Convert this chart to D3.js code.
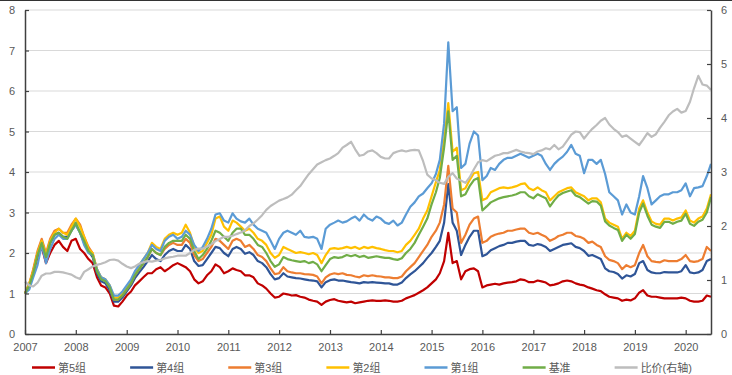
<!DOCTYPE html>
<html>
<head>
<meta charset="utf-8">
<script src="https://cdn.jsdelivr.net/npm/d3@7"></script>
<style>
  body { margin: 0; background: #fff; }
  svg text { font-family: "Liberation Sans", Arial, "Noto Sans CJK SC", sans-serif; }
</style>
</head>
<body>
<svg id="chart" width="732" height="375"></svg>
<script>
// monthly values, Jan 2007 .. Jul 2020
var firstMonth = new Date(2007, 0, 1);
var lastMonth = new Date(2020, 6, 1);
var yearLabels = ["2007","2008","2009","2010","2011","2012","2013","2014","2015","2016","2017","2018","2019","2020"];
var leftTicks = [0, 1, 2, 3, 4, 5, 6, 7, 8];
var rightTicks = [0, 1, 2, 3, 4, 5, 6];

var names = ["第5组", "第4组", "第3组", "第2组", "第1组", "基准", "比价(右轴)"];
var colors = ["#c00000", "#2f5597", "#ed7d31", "#ffc000", "#5b9bd5", "#70ad47", "#bdbdbd"];

var g5 = [1.0,1.2,1.5,1.9,2.15,1.75,2.0,2.2,2.3,2.15,2.05,2.3,
  2.35,2.1,2.0,1.85,1.75,1.4,1.2,1.15,1.0,0.7,0.68,0.8,
  0.95,1.05,1.2,1.3,1.4,1.5,1.5,1.6,1.65,1.55,1.62,1.7,
  1.75,1.7,1.65,1.55,1.35,1.25,1.3,1.45,1.55,1.72,1.65,1.5,
  1.55,1.62,1.58,1.55,1.45,1.45,1.4,1.25,1.2,1.12,1.0,0.9,
  0.92,1.0,0.98,0.95,0.96,0.92,0.9,0.85,0.82,0.8,0.72,0.8,
  0.84,0.86,0.82,0.8,0.78,0.8,0.76,0.78,0.8,0.82,0.83,0.82,
  0.82,0.83,0.82,0.8,0.8,0.82,0.88,0.92,0.96,1.02,1.08,1.15,
  1.25,1.35,1.5,1.8,2.5,1.75,1.8,1.35,1.55,1.6,1.62,1.55,
  1.15,1.2,1.22,1.24,1.22,1.25,1.27,1.28,1.3,1.35,1.33,1.28,
  1.28,1.32,1.3,1.27,1.2,1.22,1.25,1.3,1.32,1.3,1.25,1.22,
  1.2,1.15,1.12,1.08,1.06,0.98,0.92,0.9,0.88,0.82,0.85,0.83,
  0.88,1.02,1.08,0.95,0.92,0.92,0.9,0.88,0.88,0.88,0.88,0.9,
  0.88,0.82,0.8,0.8,0.82,0.95,0.92];

var g4 = [1.0,1.22,1.55,2.0,2.3,1.9,2.25,2.45,2.5,2.4,2.4,2.55,
  2.7,2.5,2.25,2.05,1.9,1.5,1.3,1.25,1.08,0.8,0.8,0.9,
  1.05,1.2,1.38,1.52,1.65,1.8,1.95,1.85,1.8,1.95,2.05,2.1,
  2.05,2.05,2.2,2.1,1.8,1.68,1.7,1.85,2.0,2.15,2.12,2.0,
  1.92,2.1,2.15,2.1,1.98,2.02,1.95,1.8,1.75,1.65,1.48,1.35,
  1.38,1.5,1.42,1.4,1.38,1.37,1.35,1.33,1.32,1.3,1.15,1.28,
  1.33,1.35,1.32,1.32,1.3,1.28,1.27,1.25,1.28,1.27,1.28,1.27,
  1.26,1.25,1.25,1.22,1.22,1.27,1.38,1.47,1.55,1.65,1.75,1.88,
  2.0,2.15,2.3,2.75,3.7,2.75,2.55,1.95,2.2,2.4,2.55,2.55,
  1.92,1.97,2.07,2.12,2.17,2.2,2.25,2.25,2.28,2.3,2.3,2.2,
  2.18,2.22,2.2,2.15,2.05,2.1,2.15,2.2,2.22,2.24,2.15,2.12,
  2.05,1.93,1.95,1.9,1.85,1.62,1.55,1.53,1.48,1.37,1.45,1.42,
  1.48,1.75,1.8,1.58,1.52,1.5,1.5,1.53,1.52,1.52,1.52,1.55,
  1.7,1.52,1.5,1.52,1.58,1.8,1.85];

var g3 = [1.0,1.25,1.6,2.05,2.35,2.0,2.35,2.55,2.6,2.5,2.5,2.7,
  2.85,2.7,2.4,2.15,2.0,1.6,1.38,1.32,1.15,0.85,0.85,0.95,
  1.1,1.25,1.45,1.6,1.75,1.9,2.1,2.0,1.95,2.1,2.2,2.25,
  2.2,2.2,2.35,2.25,1.95,1.8,1.85,2.0,2.15,2.35,2.3,2.2,
  2.1,2.3,2.35,2.3,2.15,2.2,2.1,1.95,1.9,1.8,1.62,1.48,
  1.5,1.65,1.55,1.52,1.5,1.5,1.48,1.47,1.46,1.42,1.25,1.4,
  1.47,1.5,1.48,1.5,1.46,1.45,1.42,1.4,1.45,1.43,1.45,1.43,
  1.42,1.4,1.4,1.38,1.38,1.42,1.55,1.65,1.75,1.9,2.05,2.2,
  2.4,2.55,2.75,3.2,4.15,3.1,3.0,2.25,2.45,2.7,2.85,2.9,
  2.25,2.3,2.4,2.45,2.48,2.5,2.55,2.55,2.58,2.6,2.6,2.5,
  2.47,2.5,2.45,2.4,2.3,2.35,2.42,2.45,2.5,2.5,2.42,2.4,
  2.35,2.25,2.28,2.2,2.15,1.92,1.83,1.8,1.75,1.6,1.7,1.65,
  1.7,2.0,2.2,1.92,1.8,1.78,1.77,1.82,1.8,1.8,1.8,1.85,
  1.95,1.8,1.78,1.8,1.85,2.15,2.05];

var g2 = [1.0,1.25,1.55,2.0,2.3,1.95,2.3,2.5,2.6,2.5,2.45,2.65,
  2.85,2.65,2.4,2.1,2.0,1.6,1.4,1.35,1.2,0.9,0.9,1.0,
  1.15,1.3,1.5,1.7,1.85,2.0,2.25,2.15,2.1,2.35,2.45,2.5,
  2.45,2.5,2.7,2.5,2.15,2.0,2.05,2.25,2.45,2.85,2.9,2.65,
  2.55,2.8,2.75,2.65,2.55,2.6,2.5,2.35,2.3,2.2,2.0,1.88,
  1.95,2.15,2.1,2.05,2.0,2.02,2.0,1.97,2.0,1.95,1.75,1.95,
  2.1,2.12,2.1,2.12,2.15,2.12,2.15,2.1,2.15,2.12,2.15,2.12,
  2.1,2.07,2.05,2.05,2.02,2.05,2.2,2.3,2.45,2.6,2.85,3.05,
  3.4,3.75,4.05,4.8,5.7,4.5,4.6,3.55,3.6,3.8,3.97,4.0,
  3.3,3.35,3.5,3.55,3.6,3.62,3.6,3.62,3.65,3.7,3.72,3.6,
  3.55,3.62,3.55,3.5,3.3,3.4,3.5,3.55,3.6,3.62,3.5,3.45,
  3.4,3.3,3.35,3.35,3.25,2.85,2.75,2.7,2.65,2.35,2.5,2.42,
  2.55,3.1,3.3,3.0,2.78,2.72,2.7,2.85,2.85,2.8,2.85,2.88,
  3.05,2.8,2.75,2.85,2.9,3.1,3.45];

var g1 = [1.0,1.1,1.4,1.7,2.2,1.75,2.1,2.35,2.45,2.35,2.35,2.55,
  2.7,2.5,2.2,2.0,1.95,1.6,1.4,1.35,1.2,0.95,0.95,1.05,
  1.2,1.35,1.55,1.7,1.85,2.0,2.2,2.1,2.05,2.3,2.4,2.45,
  2.35,2.4,2.55,2.45,2.2,2.05,2.15,2.35,2.6,2.95,2.98,2.8,
  2.75,2.98,2.85,2.78,2.75,2.85,2.7,2.6,2.55,2.5,2.3,2.1,
  2.35,2.5,2.55,2.5,2.45,2.55,2.4,2.38,2.4,2.35,2.1,2.6,
  2.7,2.75,2.8,2.75,2.78,2.85,2.9,2.8,2.95,2.85,2.8,2.9,
  2.85,2.75,2.72,2.8,2.68,2.75,2.95,3.14,3.25,3.4,3.47,3.6,
  3.72,3.95,4.3,5.2,7.2,5.5,5.6,4.1,4.2,4.7,5.0,4.9,
  3.8,3.9,4.1,4.05,4.2,4.3,4.35,4.35,4.4,4.45,4.4,4.35,
  4.4,4.45,4.4,4.2,4.05,4.2,4.3,4.38,4.5,4.67,4.45,4.4,
  3.97,4.3,4.3,4.2,4.3,3.95,3.5,3.4,3.3,2.95,3.2,3.0,
  2.95,3.4,3.9,3.6,3.2,3.3,3.4,3.45,3.45,3.5,3.5,3.55,
  3.72,3.4,3.6,3.62,3.65,3.9,4.2];

var base = [1.0,1.2,1.5,1.95,2.25,1.9,2.25,2.45,2.5,2.4,2.35,2.55,
  2.75,2.5,2.3,2.05,1.95,1.55,1.35,1.3,1.15,0.85,0.85,0.95,
  1.1,1.25,1.45,1.6,1.75,1.9,2.1,2.0,1.95,2.15,2.25,2.3,
  2.3,2.3,2.45,2.35,2.05,1.85,1.95,2.1,2.3,2.55,2.5,2.4,
  2.3,2.5,2.6,2.6,2.45,2.45,2.35,2.2,2.15,2.0,1.8,1.66,
  1.72,1.9,1.85,1.82,1.8,1.78,1.8,1.75,1.78,1.72,1.55,1.7,
  1.85,1.9,1.88,1.9,1.95,1.92,1.95,1.9,1.93,1.88,1.9,1.92,
  1.9,1.88,1.88,1.85,1.83,1.87,2.0,2.1,2.25,2.45,2.65,2.85,
  3.2,3.5,3.85,4.6,5.5,4.3,4.4,3.4,3.45,3.65,3.8,3.85,
  3.05,3.15,3.25,3.3,3.35,3.38,3.4,3.42,3.45,3.5,3.5,3.4,
  3.35,3.45,3.4,3.35,3.15,3.3,3.42,3.48,3.52,3.55,3.42,3.38,
  3.3,3.22,3.28,3.27,3.17,2.78,2.68,2.62,2.57,2.3,2.45,2.35,
  2.47,3.0,3.22,2.92,2.7,2.65,2.62,2.77,2.77,2.72,2.77,2.8,
  2.97,2.72,2.67,2.77,2.82,3.0,3.38];

// ratio, right axis
var ratio = [0.97,0.9,0.88,0.95,1.08,1.12,1.12,1.15,1.15,1.14,1.12,1.1,
  1.05,1.02,1.15,1.2,1.25,1.28,1.3,1.33,1.37,1.38,1.36,1.3,
  1.25,1.22,1.25,1.3,1.33,1.35,1.34,1.36,1.37,1.4,1.42,1.43,
  1.45,1.45,1.45,1.5,1.56,1.58,1.58,1.62,1.66,1.72,1.76,1.8,
  1.8,1.82,1.85,1.88,1.92,2.0,2.05,2.12,2.2,2.3,2.37,2.42,
  2.47,2.5,2.53,2.58,2.66,2.74,2.85,2.96,3.05,3.14,3.18,3.22,
  3.25,3.3,3.35,3.45,3.5,3.56,3.42,3.3,3.32,3.38,3.4,3.35,
  3.28,3.25,3.25,3.35,3.38,3.4,3.38,3.4,3.41,3.4,3.2,2.95,
  2.88,2.85,2.8,2.78,2.91,2.98,2.88,2.84,2.8,2.9,3.05,3.18,
  3.22,3.2,3.25,3.3,3.32,3.35,3.35,3.38,3.41,3.38,3.36,3.35,
  3.33,3.38,3.4,3.44,3.42,3.5,3.42,3.47,3.58,3.69,3.75,3.74,
  3.62,3.72,3.8,3.87,3.95,4.0,3.88,3.8,3.74,3.65,3.68,3.62,
  3.56,3.5,3.6,3.72,3.65,3.7,3.82,3.93,4.05,4.12,4.17,4.1,
  4.13,4.3,4.55,4.78,4.62,4.6,4.52];

var seriesData = [g5, g4, g3, g2, g1, base, ratio];

var svg = d3.select("#chart");
var W = 732, H = 375;
var margin = {left: 25, right: 21, top: 10, bottom: 41};

var months = d3.timeMonth.range(firstMonth, d3.timeMonth.offset(lastMonth, 1));

var x = d3.scaleTime().domain([firstMonth, lastMonth]).range([margin.left, W - margin.right]);
var yL = d3.scaleLinear().domain([0, 8]).range([H - margin.bottom, margin.top]);
var yR = d3.scaleLinear().domain([0, 6]).range([H - margin.bottom, margin.top]);

// frame line at the top of the picture
svg.append("line")
  .attr("x1", 0).attr("x2", W).attr("y1", 0.5).attr("y2", 0.5)
  .attr("stroke", "#333").attr("stroke-width", 1.2);

// gridlines
svg.append("g").selectAll("line").data(leftTicks.slice(1))
  .enter().append("line")
  .attr("x1", margin.left).attr("x2", W - margin.right)
  .attr("y1", function(d) { return yL(d); })
  .attr("y2", function(d) { return yL(d); })
  .attr("stroke", "#d9d9d9").attr("stroke-width", 1);

// lines
var g_lines = svg.append("g");
seriesData.forEach(function(vals, i) {
  var yScale = (i == 6) ? yR : yL;
  var line = d3.line()
    .x(function(d, j) { return x(months[j]); })
    .y(function(d) { return yScale(d); });
  g_lines.append("path")
    .datum(vals)
    .attr("d", line)
    .attr("fill", "none")
    .attr("stroke", colors[i])
    .attr("stroke-width", 2.2)
    .attr("stroke-linejoin", "round");
});

// axes
var axisCol = "#404040", labelCol = "#595959";
function styleAxis(g) {
  g.select(".domain").attr("stroke", axisCol).attr("stroke-width", 1.5);
  g.selectAll(".tick line").attr("stroke", axisCol).attr("stroke-width", 1.2);
  g.selectAll(".tick text").attr("fill", labelCol).attr("font-size", 11)
    .attr("font-family", null);
  g.attr("font-family", null);
}

svg.append("g")
  .attr("transform", "translate(" + margin.left + ",0)")
  .call(d3.axisLeft(yL).tickValues(leftTicks).tickFormat(d3.format("d"))
    .tickSizeInner(-4).tickSizeOuter(0).tickPadding(10))
  .call(styleAxis);

svg.append("g")
  .attr("transform", "translate(" + (W - margin.right) + ",0)")
  .call(d3.axisRight(yR).tickValues(rightTicks).tickFormat(d3.format("d"))
    .tickSizeInner(-4).tickSizeOuter(0).tickPadding(10))
  .call(styleAxis);

var yearDates = yearLabels.map(function(s) { return new Date(+s, 0, 1); });
svg.append("g")
  .attr("transform", "translate(0," + (H - margin.bottom) + ")")
  .call(d3.axisBottom(x).tickValues(yearDates)
    .tickFormat(function(d, i) { return yearLabels[i]; })
    .tickSizeInner(-4).tickSizeOuter(0).tickPadding(9))
  .call(styleAxis);

// legend
var legend = svg.append("g");
var lx = 32, ly = 367.5;
names.forEach(function(n, i) {
  legend.append("line")
    .attr("x1", lx).attr("x2", lx + 23)
    .attr("y1", ly).attr("y2", ly)
    .attr("stroke", colors[i]).attr("stroke-width", 2.5);
  var t = legend.append("text")
    .attr("x", lx + 26).attr("y", ly + 4.5)
    .attr("font-size", 11).attr("fill", labelCol)
    .text(n);
  lx = lx + 26 + t.node().getComputedTextLength() + 44;
});
</script>
</body>
</html>
